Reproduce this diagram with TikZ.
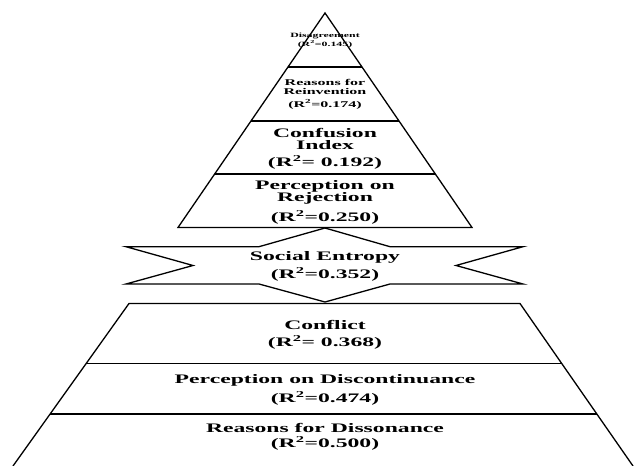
\documentclass[tikz,border=0pt]{standalone}
\usepackage{fontspec}
\setmainfont{Liberation Serif}[FakeStretch=1.82]
\newcommand{\rsq}{R\textsuperscript{2}}
\begin{document}
\begin{tikzpicture}[x=1pt,y=-1pt,
  outline/.style={draw=black,line width=1.3pt,line join=miter},
  divider/.style={draw=black,line width=1.1pt},
  lbl/.style={align=center,inner sep=0pt,anchor=center,text=black},
  big/.style={lbl,font=\fontsize{13}{12}\selectfont\bfseries},
  mid/.style={lbl,font=\fontsize{8.8}{9}\selectfont\bfseries},
  tiny/.style={lbl,font=\fontsize{6.5}{9}\selectfont\bfseries}]
\useasboundingbox (0,0) rectangle (638,466);
% top triangle
\coordinate (apex) at (325,13);
\coordinate (tl) at (178,227.5);
\coordinate (tr) at (472,227.5);
\draw[outline] (apex) -- (tl) -- (tr) -- cycle;
\draw[divider] (288,67) -- (362,67);
\draw[divider] (251,121) -- (399,121);
\draw[divider] (214.7,174) -- (435.3,174);
% star
\draw[outline,fill=white] (325,228) -- (390,246.7) -- (523,246.7) -- (456,265.5) -- (523,284)
  -- (390,284) -- (325,302) -- (259,284) -- (126,284) -- (193,265.5) -- (126,246.7)
  -- (259,246.7) -- cycle;
% bottom trapezoid
\coordinate (bl) at (13,466);
\coordinate (br) at (633,466);
\draw[outline] (bl) -- (129,303.5) -- (520,303.5) -- (br);
\draw[divider] (86.3,363.3) -- (561.6,363.3);
\draw[divider] (50.1,414) -- (596.8,414);
% labels
\node[tiny] (dis) at (325,40) {Disagreement\\(\rsq=0.145)};
\node[mid] (rein) at (325,94) {Reasons for\\Reinvention\\[4pt](\rsq=0.174)};
\node[big] (conf) at (325,148.5) {Confusion\\Index\\[5pt](\rsq= 0.192)};
\node[big] (rej) at (325,202) {Perception on\\Rejection\\[6pt](\rsq=0.250)};
\node[big] (ent) at (325,266) {Social Entropy\\[4pt](\rsq=0.352)};
\node[big] (cfl) at (325,334.5) {Conflict\\[5pt](\rsq= 0.368)};
\node[big] (disc) at (325,389.5) {Perception on Discontinuance\\[5pt](\rsq=0.474)};
\node[big] (diss) at (325,436.5) {Reasons for Dissonance\\[3pt](\rsq=0.500)};
\end{tikzpicture}
\end{document}
